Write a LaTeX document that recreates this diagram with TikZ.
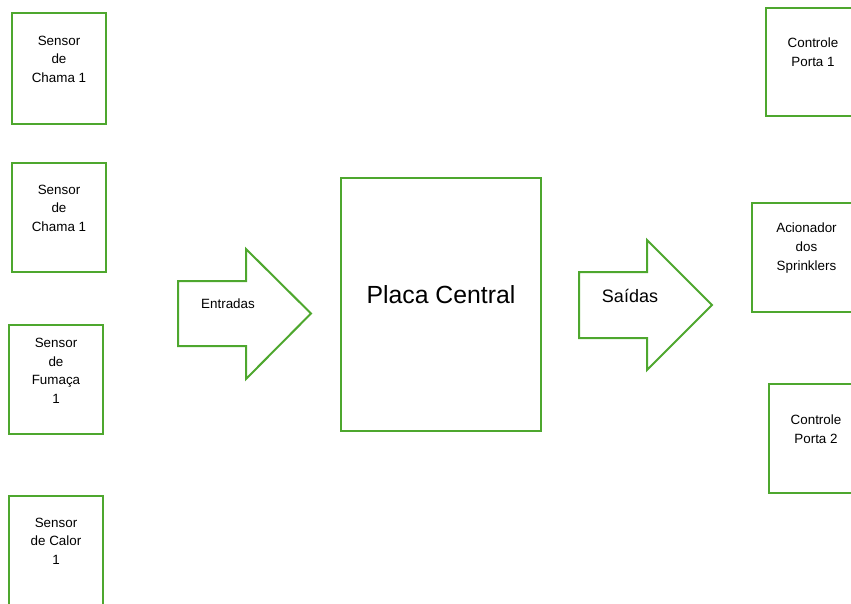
\documentclass[tikz,border=0pt]{standalone}
\usepackage{fontspec}
\setmainfont{Liberation Sans}
\definecolor{verdebloco}{RGB}{78,167,46}
\tikzset{
  bloco/.style={draw=verdebloco,line width=2pt,inner sep=0pt,
    minimum width=94pt,minimum height=109pt},
  rotulo/.style={align=center,font=\fontsize{13.4}{18.6}\selectfont},
  seta/.style={draw=verdebloco,line width=2pt,line join=miter}
}
\begin{document}
\begin{tikzpicture}[x=1pt,y=-1pt]
\useasboundingbox (0,0) rectangle (851,604);
\clip (0,0) rectangle (851,604);
% sensores de entrada
\node[bloco,minimum height=111pt] (chama1) at (59,68.5) {};
\node[rotulo] (tchama1) at ([yshift=9.5pt]chama1.center) {Sensor\\de\\Chama 1};
\node[bloco] (chama2) at (59,217.5) {};
\node[rotulo] (tchama2) at ([yshift=9.5pt]chama2.center) {Sensor\\de\\Chama 1};
\node[bloco] (fumaca) at (56,379.5) {};
\node[rotulo] (tfumaca) at ([yshift=8.5pt]fumaca.center) {Sensor\\de\\Fumaça\\1};
\node[bloco] (calor) at (56,550.5) {};
\node[rotulo] (tcalor) at ([yshift=9.5pt]calor.center) {Sensor\\de Calor\\1};
% placa
\node[bloco,minimum width=200pt,minimum height=253pt] (placa) at (441,304.5) {};
\node[font=\fontsize{24.8}{29}\selectfont] (tplaca) at ([yshift=9.5pt]placa.center) {Placa Central};
% setas
\draw[seta] (178,281) -- (246,281) -- (246,249) -- (311,313.5) -- (246,379)
  -- (246,346) -- (178,346) -- cycle;
\node[rotulo] (tentradas) at (228,304) {Entradas};
\draw[seta] (579,272) -- (647,272) -- (647,240) -- (712,305) -- (647,370)
  -- (647,338) -- (579,338) -- cycle;
\node[font=\fontsize{18}{21}\selectfont] (tsaidas) at (630,296) {Saídas};
% atuadores de saida
\node[bloco,minimum height=108pt] (porta1) at (813,62) {};
\node[rotulo] (tporta1) at ([yshift=9.5pt]porta1.center) {Controle\\Porta 1};
\node[bloco,minimum width=109pt] (sprink) at (806.5,257.5) {};
\node[rotulo] (tsprink) at ([yshift=9.5pt]sprink.center) {Acionador\\dos\\Sprinklers};
\node[bloco] (porta2) at (816,438.5) {};
\node[rotulo] (tporta2) at ([yshift=9.5pt]porta2.center) {Controle\\Porta 2};
\end{tikzpicture}
\end{document}
